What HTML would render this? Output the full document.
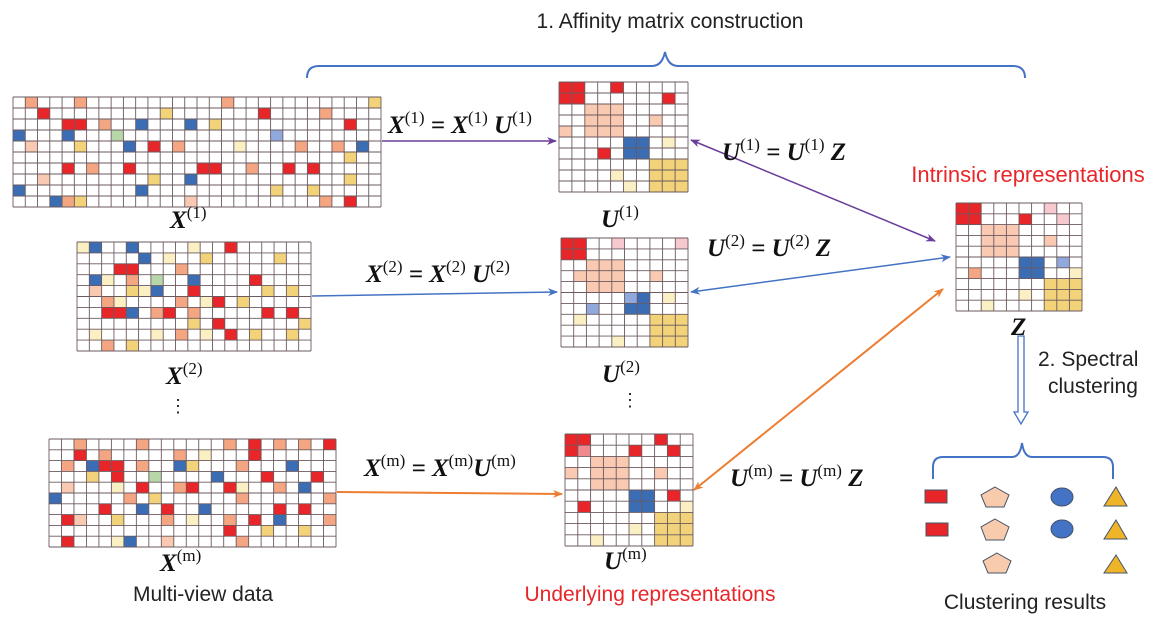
<!DOCTYPE html>
<html><head><meta charset="utf-8"><style>
html,body{margin:0;padding:0;background:#fff;}
svg{display:block;font-family:"Liberation Sans",sans-serif;}
.eq{font-family:"Liberation Serif",serif;font-weight:bold;font-style:italic;font-size:25px;fill:#111;}
.eq tspan.s{font-style:normal;font-weight:normal;font-size:17px;}
.t{font-size:21px;}
</style></head><body>
<svg id="s" width="1156" height="631" viewBox="0 0 1156 631" xmlns="http://www.w3.org/2000/svg">
<defs>
<marker id="ap" markerWidth="10" markerHeight="8" refX="9" refY="4" orient="auto-start-reverse" markerUnits="userSpaceOnUse"><path d="M0,0 L10,4 L0,8 L3,4z" fill="#6a3d9a"/></marker>
<marker id="ab" markerWidth="10" markerHeight="8" refX="9" refY="4" orient="auto-start-reverse" markerUnits="userSpaceOnUse"><path d="M0,0 L10,4 L0,8 L3,4z" fill="#4472c4"/></marker>
<marker id="ao" markerWidth="10" markerHeight="8" refX="9" refY="4" orient="auto-start-reverse" markerUnits="userSpaceOnUse"><path d="M0,0 L10,4 L0,8 L3,4z" fill="#ed7d31"/></marker>
</defs>
<g id="grids"></g>
<text class="t" x="670" y="28" text-anchor="middle" fill="#222">1. Affinity matrix construction</text>
<path d="M307,78 Q307,66 319,66 L652,66 Q662,66 665,52 Q668,66 678,66 L1013,66 Q1025,66 1025,78" fill="none" stroke="#4472c4" stroke-width="2"/>
<line x1="382" y1="141" x2="556" y2="141" stroke="#6a3d9a" stroke-width="1.5" marker-end="url(#ap)"/>
<line x1="691" y1="140" x2="935" y2="241" stroke="#6a3d9a" stroke-width="1.5" marker-end="url(#ap)" marker-start="url(#ap)"/>
<line x1="312" y1="296" x2="557" y2="292" stroke="#4472c4" stroke-width="1.5" marker-end="url(#ab)"/>
<line x1="691" y1="292" x2="950" y2="257" stroke="#4472c4" stroke-width="1.5" marker-end="url(#ab)" marker-start="url(#ab)"/>
<line x1="337" y1="492" x2="562" y2="494" stroke="#ed7d31" stroke-width="2" marker-end="url(#ao)"/>
<line x1="694" y1="490" x2="943" y2="289" stroke="#ed7d31" stroke-width="2" marker-end="url(#ao)" marker-start="url(#ao)"/>
<text class="eq" x="388" y="133">X<tspan class="s" dy="-10">(1)</tspan><tspan dy="10"> = X</tspan><tspan class="s" dy="-10">(1)</tspan><tspan dy="10"> U</tspan><tspan class="s" dy="-10">(1)</tspan></text>
<text class="eq" x="722" y="160">U<tspan class="s" dy="-10">(1)</tspan><tspan dy="10"> = U</tspan><tspan class="s" dy="-10">(1)</tspan><tspan dy="10"> Z</tspan></text>
<text class="eq" x="366" y="282">X<tspan class="s" dy="-10">(2)</tspan><tspan dy="10"> = X</tspan><tspan class="s" dy="-10">(2)</tspan><tspan dy="10"> U</tspan><tspan class="s" dy="-10">(2)</tspan></text>
<text class="eq" x="707" y="256">U<tspan class="s" dy="-10">(2)</tspan><tspan dy="10"> = U</tspan><tspan class="s" dy="-10">(2)</tspan><tspan dy="10"> Z</tspan></text>
<text class="eq" x="364" y="476">X<tspan class="s" dy="-10">(m)</tspan><tspan dy="10"> = X</tspan><tspan class="s" dy="-10">(m)</tspan><tspan dy="10">U</tspan><tspan class="s" dy="-10">(m)</tspan></text>
<text class="eq" x="730" y="486">U<tspan class="s" dy="-10">(m)</tspan><tspan dy="10"> = U</tspan><tspan class="s" dy="-10">(m)</tspan><tspan dy="10"> Z</tspan></text>
<text class="eq" x="170" y="228">X<tspan class="s" dy="-10">(1)</tspan></text>
<text class="eq" x="601" y="227">U<tspan class="s" dy="-10">(1)</tspan></text>
<text class="eq" x="166" y="384">X<tspan class="s" dy="-10">(2)</tspan></text>
<text class="eq" x="602" y="382">U<tspan class="s" dy="-10">(2)</tspan></text>
<text class="eq" x="160" y="571">X<tspan class="s" dy="-10">(m)</tspan></text>
<text class="eq" x="604" y="569">U<tspan class="s" dy="-10">(m)</tspan></text>
<text class="eq" x="1011" y="335">Z</text>
<text x="178" y="412" font-size="18" text-anchor="middle" fill="#222">⋮</text>
<text x="630" y="406" font-size="18" text-anchor="middle" fill="#222">⋮</text>
<text x="1028" y="182" font-size="22" text-anchor="middle" fill="#e8262a">Intrinsic representations</text>
<text class="t" x="650" y="601" text-anchor="middle" fill="#e8262a">Underlying representations</text>
<text class="t" x="203" y="601" text-anchor="middle" fill="#222">Multi-view data</text>
<text class="t" x="1025" y="609" text-anchor="middle" fill="#222">Clustering results</text>
<text class="t" x="1038" y="366" fill="#222">2. Spectral</text>
<text class="t" x="1048" y="393" fill="#222">clustering</text>
<path d="M1018,336 L1024,336 L1024,412 L1028,412 L1021,424 L1014,412 L1018,412 Z" fill="#fff" stroke="#4472c4" stroke-width="1.3"/>
<path d="M933,479 L933,467 Q933,457 943,457 L1012,457 Q1020,457 1022,443 Q1024,457 1032,457 L1103,457 Q1113,457 1113,467 L1113,479" fill="none" stroke="#4472c4" stroke-width="2"/>
<g stroke="#44546a" stroke-width="1">
<rect x="925" y="490" width="22" height="13" fill="#e8262a"/>
<rect x="926" y="523" width="22" height="13" fill="#e8262a"/>
<ellipse cx="1062" cy="497" rx="11" ry="9" fill="#4472c4"/>
<ellipse cx="1062" cy="529" rx="11" ry="9" fill="#4472c4"/>
<g fill="#f8cbad">
<polygon points="995,487 1009,495 1004,507 986,507 981,495"/>
<polygon points="995,519 1009,527 1004,540 986,540 981,527"/>
<polygon points="997,553 1011,561 1006,573 988,573 983,561"/>
</g>
<g fill="#f0b429">
<polygon points="1116,487 1127,506 1104,506"/>
<polygon points="1116,520 1127,539 1104,539"/>
<polygon points="1116,555 1127,573 1104,573"/>
</g>
</g>
</svg>
<script>
var C={r:"#e8262a",s:"#f4a582",p:"#f9c9b1",b:"#3a6db3",y:"#f2d37a",l:"#fbefc4",g:"#b7d7a8",q:"#8fa9dc",k:"#f6c9cf",m:"#f08890"};
var G=document.getElementById("grids");
function grid(x0,y0,x1,y1,nc,nr,cells){
 var cw=(x1-x0)/nc,ch=(y1-y0)/nr,h="";
 for(var k in cells){var a=k.split(",");h+='<rect x="'+(x0+a[1]*cw)+'" y="'+(y0+a[0]*ch)+'" width="'+cw+'" height="'+ch+'" fill="'+C[cells[k]]+'"/>';}
 var st='stroke="#6b5a5f" stroke-width="0.9"';
 for(var i=0;i<=nc;i++){var x=x0+i*cw;h+='<line x1="'+x+'" y1="'+y0+'" x2="'+x+'" y2="'+y1+'" '+st+'/>';}
 for(var j=0;j<=nr;j++){var y=y0+j*ch;h+='<line x1="'+x0+'" y1="'+y+'" x2="'+x1+'" y2="'+y+'" '+st+'/>';}
 G.innerHTML+=h;
}
function L(s){var o={};s.split(" ").forEach(function(t){if(!t)return;var p=t.split(":");o[p[0]]=p[1];});return o;}
grid(13,97,381,207,30,10,L("0,1:s 0,5:s 0,17:s 0,29:y 1,2:r 1,12:y 1,20:r 1,25:s 2,4:r 2,5:r 2,7:s 2,10:b 2,14:b 2,16:y 2,27:r 3,0:b 3,4:b 3,8:g 3,21:q 4,1:p 4,5:y 4,9:b 4,11:r 4,13:s 4,18:l 4,23:s 4,26:s 4,28:b 5,27:y 6,4:r 6,6:s 6,9:r 6,15:r 6,16:r 6,19:s 6,22:r 6,24:r 7,2:p 7,11:y 7,14:b 7,27:y 8,0:b 8,10:b 8,21:y 8,24:y 9,3:b 9,4:s 9,5:y 9,14:p 9,25:s 9,27:r"));
grid(77,242,311,351,19,10,L("0,0:l 0,1:b 0,4:b 0,9:l 0,12:r 1,5:b 1,7:l 1,10:y 1,16:y 2,3:r 2,4:r 2,8:s 3,1:b 3,2:l 3,4:s 3,6:g 3,9:b 3,14:r 4,1:p 4,4:y 4,5:l 4,6:b 4,9:r 4,15:y 4,17:y 5,2:s 5,3:l 5,8:s 5,10:l 5,11:r 5,13:y 6,2:r 6,3:r 6,4:b 6,6:s 6,7:r 6,9:s 6,15:r 6,17:r 7,9:y 7,11:r 7,18:y 8,1:l 8,6:l 8,8:s 8,10:l 8,12:r 8,14:y 8,17:y 9,2:s 9,4:y"));
grid(49,439,336,547,23,10,L("0,2:s 0,7:s 0,14:s 0,16:r 0,18:s 0,20:s 0,22:r 1,2:r 1,4:s 1,10:s 1,12:l 1,16:r 2,1:s 2,3:b 2,4:r 2,5:r 2,7:s 2,10:b 2,11:y 2,15:s 2,19:b 3,3:y 3,5:r 3,8:g 3,13:b 3,17:r 3,21:r 4,1:p 4,5:l 4,7:r 4,10:s 4,11:r 4,14:r 4,15:l 4,18:s 4,20:b 5,0:b 5,6:s 5,8:y 5,15:s 5,22:s 6,4:r 6,7:b 6,9:r 6,12:b 6,18:r 6,20:r 7,1:r 7,2:p 7,5:y 7,9:s 7,11:l 7,14:s 7,16:r 7,18:b 7,22:s 8,14:r 8,17:y 8,20:y 9,1:r 9,5:l 9,6:b 9,9:p 9,15:s"));
function blocks(extra){var o={};function f(r0,c0,n,c){for(var i=0;i<n;i++)for(var j=0;j<n;j++)o[(r0+i)+","+(c0+j)]=c;}
 f(0,0,2,"r");f(2,2,3,"p");f(5,5,2,"b");f(7,7,3,"y");var e=L(extra);for(var k in e)o[k]=e[k];return o;}
grid(559,82,688,192,10,10,blocks("0,4:r 1,8:r 3,7:p 4,0:p 5,8:l 6,3:r 8,4:l 9,5:l"));
grid(561,238,688,347,10,10,blocks("0,4:k 0,9:k 3,1:p 3,7:p 4,2:p 5,5:q 5,8:l 6,2:q 7,1:l 9,4:l"));
grid(565,434,693,546,10,10,blocks("0,7:r 1,1:m 1,5:r 1,8:r 3,0:p 3,7:p 5,8:r 6,1:r 6,9:l 8,5:l 9,2:l"));
grid(956,203,1082,311,10,10,blocks("0,7:k 1,5:r 1,8:k 3,7:p 5,8:q 6,1:s 6,9:l 8,5:l 9,2:l"));
</script>
</body></html>
